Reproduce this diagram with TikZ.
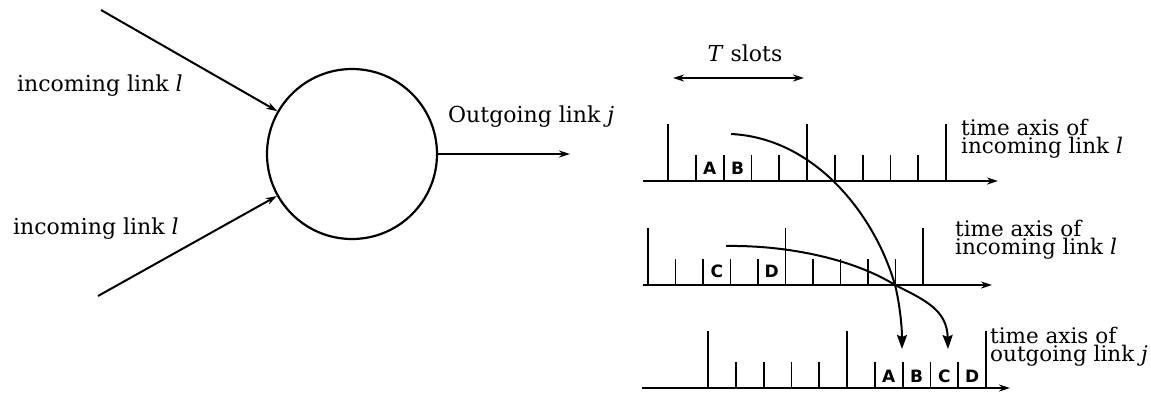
\documentclass[tikz,border=0pt]{standalone}
\usepackage{fontspec}
\setmainfont{DejaVu Serif}
\setsansfont{DejaVu Sans}
\usetikzlibrary{arrows.meta}

\begin{document}
\begin{tikzpicture}[x=1pt,y=-1pt,
  wire/.style={line width=2pt},
  tip/.style={-{Stealth[length=11pt,width=7pt]}},
  bothtips/.style={{Stealth[length=11pt,width=7pt]}-{Stealth[length=11pt,width=7pt]}},
  curvetip/.style={line width=2pt,-{Stealth[length=14pt,width=10pt,inset=2pt]}},
  axisline/.style={line width=2.2pt,-{Stealth[length=11pt,width=7pt]}},
  tickline/.style={line width=1.8pt},
  lbl/.style={inner sep=0pt, anchor=base west, font=\fontsize{22}{22}\selectfont},
  axcap/.style={inner sep=0pt, anchor=base west, align=left, font=\fontsize{21.5}{18}\selectfont},
  slotlbl/.style={inner sep=0pt, font=\sffamily\bfseries\fontsize{17}{17}\selectfont},
 ]
\useasboundingbox (0,0) rectangle (1151,392);

% ---- switching node with its links ----
\node[circle, draw, line width=2.2pt, minimum size=170pt, inner sep=0pt] (sw) at (352,154) {};
\coordinate (inA) at (101,10);
\coordinate (inB) at (98,296);
\coordinate (outJ) at (570,154);
\draw[wire,tip] (inA) -- (sw);
\draw[wire,tip] (inB) -- (sw);
\draw[wire,tip] (sw.east) -- (outJ);

\node[lbl] (labA) at (17,91) {incoming link \textit{l}};
\node[lbl] (labB) at (13,234) {incoming link \textit{l}};
\node[lbl] (labJ) at (448,122) {Outgoing link \textit{j}};

% ---- frame length ----
\coordinate (ts1) at (673,78);
\coordinate (ts2) at (804,78);
\draw[wire,bothtips] (ts1) -- (ts2);
\node[lbl, anchor=base] (tsl) at (745,61) {\textit{T} slots};

% ---- three time axes: name / first tick / slot width / axis y / start / end ----
\foreach \ax/\x/\dx/\y/\xs/\xe in {top/668/27.8/181/643/998, mid/648/27.5/285/643/992, bot/708/27.8/388/642/1010} {
  \coordinate (\ax-s) at (\xs,\y);
  \coordinate (\ax-e) at (\xe,\y);
  \draw[axisline] (\ax-s) -- (\ax-e);
  \foreach \k in {0,...,10} {
    \pgfmathsetmacro\h{ifthenelse(mod(\k,5)==0,57,26)}
    \draw[tickline] ({\x+\k*\dx},\y) -- ++(0,-\h);
  }
}

% slot contents
\node[slotlbl] (tA) at ({668+1.5*27.8},168) {A};
\node[slotlbl] (tB) at ({668+2.5*27.8},168) {B};
\node[slotlbl] (mC) at ({648+2.5*27.5},271) {C};
\node[slotlbl] (mD) at ({648+4.5*27.5},271) {D};
\node[slotlbl] (bA) at ({708+6.5*27.8},376) {A};
\node[slotlbl] (bB) at ({708+7.5*27.8},376) {B};
\node[slotlbl] (bC) at ({708+8.5*27.8},376) {C};
\node[slotlbl] (bD) at ({708+9.5*27.8},376) {D};

% axis captions (anchored at the baseline of their second line)
\node[axcap] (capA) at (961,153) {time axis of\\incoming link \textit{l}};
\node[axcap] (capB) at (955,254) {time axis of\\incoming link \textit{l}};
\node[axcap] (capJ) at (990,361) {time axis of\\outgoing link \textit{j}};

% ---- cells moved onto the outgoing link ----
\coordinate (ab0) at (731,134);
\coordinate (cd0) at (726,246);
\coordinate (cross) at (895,285);
\coordinate (abOut) at (902,349);
\coordinate (cdOut) at (948,349);
\draw[curvetip] (ab0) .. controls (815,138) and (875,215) .. (cross)
  .. controls (899,300) and (902,325) .. (abOut);
\draw[curvetip] (cd0) .. controls (790,245) and (855,260) .. (cross)
  .. controls (925,300) and (947,310) .. (cdOut);
\end{tikzpicture}
\end{document}
